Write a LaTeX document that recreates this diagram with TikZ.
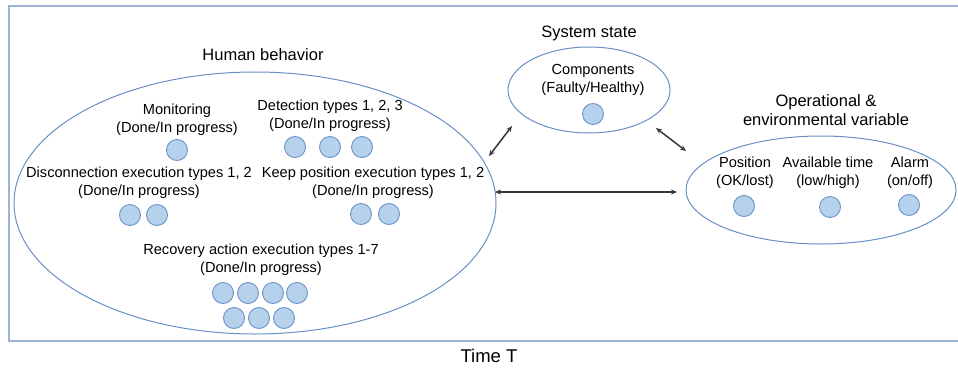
\documentclass[tikz,border=0pt]{standalone}
\usepackage{fontspec}
\setmainfont{Liberation Sans}
\usetikzlibrary{arrows.meta,shapes.geometric}
\definecolor{ellc}{HTML}{6A8FC4}
\definecolor{dotfill}{HTML}{B5D1EC}
\definecolor{dotdraw}{HTML}{6C93C8}
\definecolor{framec}{HTML}{9DB4D6}
\definecolor{arrc}{HTML}{363636}
\begin{document}
\begin{tikzpicture}[x=1pt,y=-1pt,
  dot/.style={circle,draw=dotdraw,fill=dotfill,line width=0.9pt,minimum size=21pt,inner sep=0pt},
  lbl/.style={align=center,font=\fontsize{14.6}{18}\selectfont,inner sep=0pt},
  head/.style={align=center,font=\fontsize{16.5}{19}\selectfont,inner sep=0pt},
  grp/.style={ellipse,draw=ellc,line width=1pt,inner sep=0pt},
  link/.style={{Stealth[length=6pt,width=5pt]}-{Stealth[length=6pt,width=5pt]},draw=arrc,line width=1.5pt}]
\useasboundingbox (0,0) rectangle (958,369);
% frame
\draw[framec,line width=1.3pt] (958,6) -- (9,6) -- (9,341) -- (958,341);
\node[font=\fontsize{18.5}{22}\selectfont,inner sep=0pt] (time) at (489,356) {Time T};

% Human behavior
\node[head] (hbl) at (263,55) {Human behavior};
\node[grp,minimum width=482pt,minimum height=262pt] (hb) at (255,203) {};
\node[lbl] (mon) at (177,119.5) {Monitoring\\(Done/In progress)};
\node[dot] (m1) at (177,150) {};
\node[lbl] (det) at (330,116) {Detection types 1, 2, 3\\(Done/In progress)};
\node[dot] (d1) at (295,147) {};
\node[dot] (d2) at (330,147) {};
\node[dot] (d3) at (362,147) {};
\node[lbl] (dis) at (139,183) {Disconnection execution types 1, 2\\(Done/In progress)};
\node[dot] (x1) at (130,215) {};
\node[dot] (x2) at (157,215) {};
\node[lbl] (kp) at (373,183) {Keep position execution types 1, 2\\(Done/In progress)};
\node[dot] (k1) at (361,214) {};
\node[dot] (k2) at (389,214) {};
\node[lbl] (rec) at (261,259.5) {Recovery action execution types 1-7\\(Done/In progress)};
\node[dot] (r1) at (223,293) {};
\node[dot] (r2) at (248,293) {};
\node[dot] (r3) at (273,293) {};
\node[dot] (r4) at (297,293) {};
\node[dot] (r5) at (234,318) {};
\node[dot] (r6) at (259,318) {};
\node[dot] (r7) at (284,318) {};

% System state
\node[head] (ssl) at (589,33) {System state};
\node[grp,minimum width=162pt,minimum height=86pt] (ss) at (589,90) {};
\node[lbl] (comp) at (593,79.5) {Components\\(Faulty/Healthy)};
\node[dot] (c1) at (593,114) {};

% Operational & environmental
\node[head] (opl) at (826,110.5) {Operational \&\\environmental variable};
\node[grp,minimum width=270pt,minimum height=108pt] (op) at (821,190) {};
\node[lbl] (pos) at (745,173) {Position\\(OK/lost)};
\node[dot] (p1) at (744,206) {};
\node[lbl] (avt) at (828,173) {Available time\\(low/high)};
\node[dot] (p2) at (830,207) {};
\node[lbl] (alm) at (910,173) {Alarm\\(on/off)};
\node[dot] (p3) at (909,205) {};

% connectors
\coordinate (a1s) at (489,156);
\coordinate (a1e) at (512,126);
\coordinate (a2s) at (656,128);
\coordinate (a2e) at (686,151);
\coordinate (a3s) at (495,192);
\coordinate (a3e) at (677,192);
\draw[link] (a1s) -- (a1e);
\draw[link] (a2s) -- (a2e);
\draw[link] (a3s) -- (a3e);
\end{tikzpicture}
\end{document}
